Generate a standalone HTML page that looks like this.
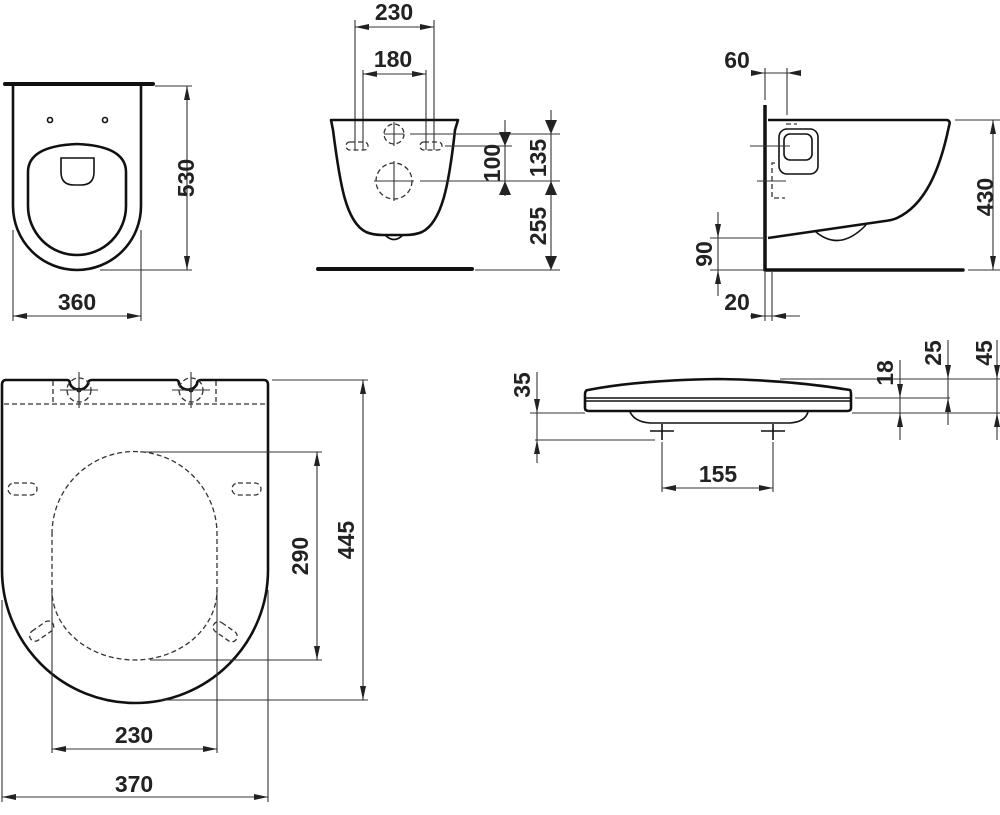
<!DOCTYPE html>
<html><head><meta charset="utf-8"><style>
html,body{margin:0;padding:0;background:#fff;}
svg{display:block;}
text{font-family:"Liberation Sans Narrow","Liberation Sans",sans-serif;font-weight:bold;font-size:23px;fill:#222;text-anchor:middle;}
.t{stroke:#111;stroke-width:2.6;fill:none;stroke-linejoin:round;}
.m{stroke:#111;stroke-width:1.6;fill:none;}
.d{stroke:#333;stroke-width:1.1;fill:none;}
.dash{stroke:#333;stroke-width:1.3;fill:none;stroke-dasharray:5 3;}
.a{stroke:#333;stroke-width:1.1;fill:none;marker-start:url(#ar);marker-end:url(#ar);}
</style></head><body>
<svg width="1000" height="815" viewBox="0 0 1000 815" xmlns="http://www.w3.org/2000/svg">
<defs>
<marker id="ar" viewBox="0 0 14 6" refX="14" refY="3" markerWidth="14" markerHeight="6" markerUnits="userSpaceOnUse" orient="auto-start-reverse">
<path d="M0,0 L14,3 L0,6 Z" fill="#222"/></marker>
<marker id="ae" viewBox="0 0 14 6" refX="14" refY="3" markerWidth="14" markerHeight="6" markerUnits="userSpaceOnUse" orient="auto">
<path d="M0,0 L14,3 L0,6 Z" fill="#222"/></marker>
</defs>

<!-- ===== Top-left: top view of bowl ===== -->
<line x1="5" y1="84" x2="153" y2="84" stroke="#111" stroke-width="4" stroke-linecap="round"/>
<path class="t" d="M13,86 L13,206 A64,64 0 0 0 141,206 L141,86"/>
<path class="t" d="M28,172 Q28,146 77,144 Q126,146 126,172 L126,206 A49,49 0 0 1 28,206 Z"/>
<path class="m" d="M61,158 L94,158 L94,172 Q94,185 81,185 L74,185 Q61,185 61,172 Z"/>
<circle cx="50" cy="120" r="2.5" class="m"/><circle cx="105" cy="120" r="2.5" class="m"/>
<line class="d" x1="155" y1="86" x2="192" y2="86"/>
<line class="d" x1="100" y1="270" x2="192" y2="270"/>
<line class="a" x1="187" y1="86" x2="187" y2="270"/>
<text transform="translate(194,178) rotate(-90)">530</text>
<line class="d" x1="13" y1="230" x2="13" y2="321"/>
<line class="d" x1="141" y1="230" x2="141" y2="321"/>
<line class="a" x1="13" y1="316" x2="141" y2="316"/>
<text x="77" y="310">360</text>

<!-- ===== Middle: front view ===== -->
<line class="d" x1="355" y1="20" x2="355" y2="150"/>
<line class="d" x1="434" y1="20" x2="434" y2="150"/>
<line class="d" x1="363" y1="70" x2="363" y2="150"/>
<line class="d" x1="426" y1="70" x2="426" y2="150"/>
<line class="a" x1="355" y1="27" x2="434" y2="27"/>
<line class="a" x1="363" y1="74" x2="426" y2="74"/>
<text x="394" y="20">230</text>
<text x="393" y="67">180</text>
<path class="t" d="M331,120 L458,120 L455,130 C449,185 442,222 422,232 Q415,235 405,235 L383,235 Q373,235 366,232 C346,222 340,185 333,130 Z"/>
<path class="m" d="M385,235 Q394,244 403,235"/>
<path class="dash" d="M350,142 L364,142 A4,4 0 0 1 364,150 L350,150 A4,4 0 0 1 350,142 Z"/>
<path class="dash" d="M424,142 L438,142 A4,4 0 0 1 438,150 L424,150 A4,4 0 0 1 424,142 Z"/>
<circle class="dash" cx="394" cy="134" r="10"/>
<circle class="dash" cx="394" cy="181" r="18"/>
<line class="d" x1="384" y1="134" x2="404" y2="134"/><line class="d" x1="394" y1="122" x2="394" y2="146"/>
<line class="d" x1="374" y1="181" x2="414" y2="181"/><line class="d" x1="394" y1="161" x2="394" y2="201"/>
<line x1="318" y1="269" x2="472" y2="269" stroke="#111" stroke-width="4" stroke-linecap="round"/>
<line class="d" x1="410" y1="134" x2="560" y2="134"/>
<line class="d" x1="445" y1="146" x2="512" y2="146"/>
<line class="d" x1="420" y1="181" x2="560" y2="181"/>
<line class="d" x1="475" y1="270" x2="560" y2="270"/>
<line class="d" x1="505" y1="120" x2="505" y2="196"/>
<path d="M499,132 L511,132 L505,146 Z M499,195 L511,195 L505,181 Z" fill="#222"/>
<text transform="translate(500,163) rotate(-90)">100</text>
<line class="d" x1="551" y1="110" x2="551" y2="270"/>
<path d="M545,120 L557,120 L551,134 Z M545,195 L557,195 L551,181 Z M545,256 L557,256 L551,270 Z" fill="#222"/>
<text transform="translate(546,158) rotate(-90)">135</text>
<text transform="translate(546,226) rotate(-90)">255</text>

<!-- ===== Right: side view ===== -->
<line x1="765" y1="105" x2="765" y2="271" stroke="#111" stroke-width="3.5"/>
<line x1="765" y1="270" x2="963" y2="270" stroke="#111" stroke-width="3.5" stroke-linecap="round"/>
<path class="t" d="M768,120 L947,120 Q951,121 949,126 C940,170 925,205 897,218 Q893,220 885,221 L768,238"/>
<path class="m" d="M816,232 Q840,252 866,225"/>
<rect class="m" x="779" y="129" width="39" height="45" rx="8"/>
<rect class="m" x="784" y="134" width="28" height="26" rx="6"/>
<path class="dash" d="M786,124 L797,124 M775,163 L772,163 L772,198 L785,198"/>
<line class="d" x1="750" y1="146" x2="790" y2="146"/>
<line class="d" x1="757" y1="181" x2="786" y2="181"/>
<line class="d" x1="760" y1="73" x2="800" y2="73"/>
<line class="d" x1="787" y1="68" x2="787" y2="115"/>
<line class="d" x1="765" y1="68" x2="765" y2="100"/>
<path d="M751,70 L765,73 L751,76 Z M801,70 L787,73 L801,76 Z" fill="#222"/>
<text x="737" y="68">60</text>
<line class="d" x1="955" y1="120" x2="1000" y2="120"/>
<line class="d" x1="968" y1="270" x2="1000" y2="270"/>
<line class="a" x1="993" y1="120" x2="993" y2="270"/>
<text transform="translate(993,197) rotate(-90)">430</text>
<line class="d" x1="710" y1="238" x2="765" y2="238"/>
<line class="d" x1="710" y1="270" x2="765" y2="270"/>
<line class="d" x1="718" y1="212" x2="718" y2="296"/>
<path d="M715,224 L721,224 L718,238 Z M715,284 L721,284 L718,270 Z" fill="#222"/>
<text transform="translate(712,254) rotate(-90)">90</text>
<line class="d" x1="772" y1="272" x2="772" y2="321"/>
<line class="d" x1="765" y1="272" x2="765" y2="321"/>
<line class="d" x1="750" y1="316" x2="800" y2="316"/>
<path d="M751,313 L765,316 L751,319 Z M786,313 L772,316 L786,319 Z" fill="#222"/>
<text x="737" y="310">20</text>

<!-- ===== Seat side view ===== -->
<path class="t" d="M588,390 Q640,380 718,379 Q790,380 850,390 Q851,391 851,395 L851,408 Q851,411 847,411 L589,411 Q585,411 585,408 L585,395 Q585,390 588,390 Z"/>
<line class="m" x1="586" y1="398" x2="850" y2="398"/>
<line class="m" x1="586" y1="401" x2="850" y2="401"/>
<path class="m" d="M630,412 Q635,422 650,423 L790,423 Q805,422 808,412"/>
<path class="m" d="M650,431 L674,431 M662,424 L662,440 M761,431 L785,431 M773,424 L773,440"/>
<line class="d" x1="530" y1="413" x2="585" y2="413"/>
<line class="d" x1="535" y1="440" x2="655" y2="440"/>
<line class="d" x1="537" y1="372" x2="537" y2="463"/>
<path d="M534,399 L540,399 L537,413 Z M534,454 L540,454 L537,440 Z" fill="#222"/>
<text transform="translate(530,385) rotate(-90)">35</text>
<line class="d" x1="662" y1="442" x2="662" y2="492"/>
<line class="d" x1="773" y1="442" x2="773" y2="492"/>
<line class="a" x1="662" y1="488" x2="773" y2="488"/>
<text x="718" y="482">155</text>
<line class="d" x1="780" y1="379" x2="1000" y2="379"/>
<line class="d" x1="855" y1="398" x2="950" y2="398"/>
<line class="d" x1="852" y1="413" x2="1000" y2="413"/>
<line class="d" x1="900" y1="360" x2="900" y2="440"/>
<path d="M897,384 L903,384 L900,398 Z M897,427 L903,427 L900,413 Z" fill="#222"/>
<text transform="translate(893,373) rotate(-90)">18</text>
<line class="d" x1="948" y1="340" x2="948" y2="425"/>
<path d="M945,365 L951,365 L948,379 Z M945,412 L951,412 L948,398 Z" fill="#222"/>
<text transform="translate(941,353) rotate(-90)">25</text>
<line class="d" x1="997" y1="340" x2="997" y2="440"/>
<path d="M994,365 L1000,365 L997,379 Z M994,427 L1000,427 L997,413 Z" fill="#222"/>
<text transform="translate(992,353) rotate(-90)">45</text>

<!-- ===== Seat top view ===== -->
<path class="t" d="M6,380 L67,380 Q70,380 70,384 A10,10 0 0 0 88,384 Q88,380 92,380 L176,380 Q179,380 179,384 A10,10 0 0 0 197,384 Q197,380 201,380 L264,380 Q268,380 268,385 L268,570 A133,133 0 0 1 2,570 L2,385 Q2,380 6,380 Z"/>
<path class="dash" d="M4,404 L266,404"/>
<path class="dash" d="M53,381 L53,404 M216,381 L216,404"/>
<circle class="dash" cx="79" cy="390" r="12"/><circle class="dash" cx="191" cy="390" r="12"/>
<circle cx="79" cy="390" r="2.5" fill="#111"/><circle cx="191" cy="390" r="2.5" fill="#111"/>
<path class="d" d="M60,390 L98,390 M79,372 L79,408 M172,390 L210,390 M191,372 L191,408"/>
<path class="dash" d="M52,534 A82.5,82.5 0 0 1 217,534 L217,590 A82.5,70 0 0 1 52,590 Z"/>
<rect class="dash" x="8" y="483" width="29" height="12" rx="6"/>
<rect class="dash" x="232" y="483" width="29" height="12" rx="6"/>
<rect class="dash" x="28" y="626" width="27" height="11" rx="5.5" transform="rotate(-35 41 631)"/>
<rect class="dash" x="212" y="626" width="27" height="11" rx="5.5" transform="rotate(35 225 631)"/>
<line class="d" x1="272" y1="380" x2="368" y2="380"/>
<line class="d" x1="140" y1="452" x2="322" y2="452"/>
<line class="d" x1="150" y1="660" x2="322" y2="660"/>
<line class="d" x1="160" y1="700" x2="368" y2="700"/>
<line class="a" x1="317" y1="452" x2="317" y2="660"/>
<line class="a" x1="363" y1="380" x2="363" y2="700"/>
<text transform="translate(308,556) rotate(-90)">290</text>
<text transform="translate(354,540) rotate(-90)">445</text>
<line class="d" x1="52" y1="590" x2="52" y2="753"/>
<line class="d" x1="217" y1="590" x2="217" y2="753"/>
<line class="d" x1="2" y1="600" x2="2" y2="802"/>
<line class="d" x1="268" y1="590" x2="268" y2="802"/>
<line class="a" x1="52" y1="749" x2="217" y2="749"/>
<line class="a" x1="2" y1="797" x2="268" y2="797"/>
<text x="134" y="743">230</text>
<text x="134" y="792">370</text>
</svg>
</body></html>
